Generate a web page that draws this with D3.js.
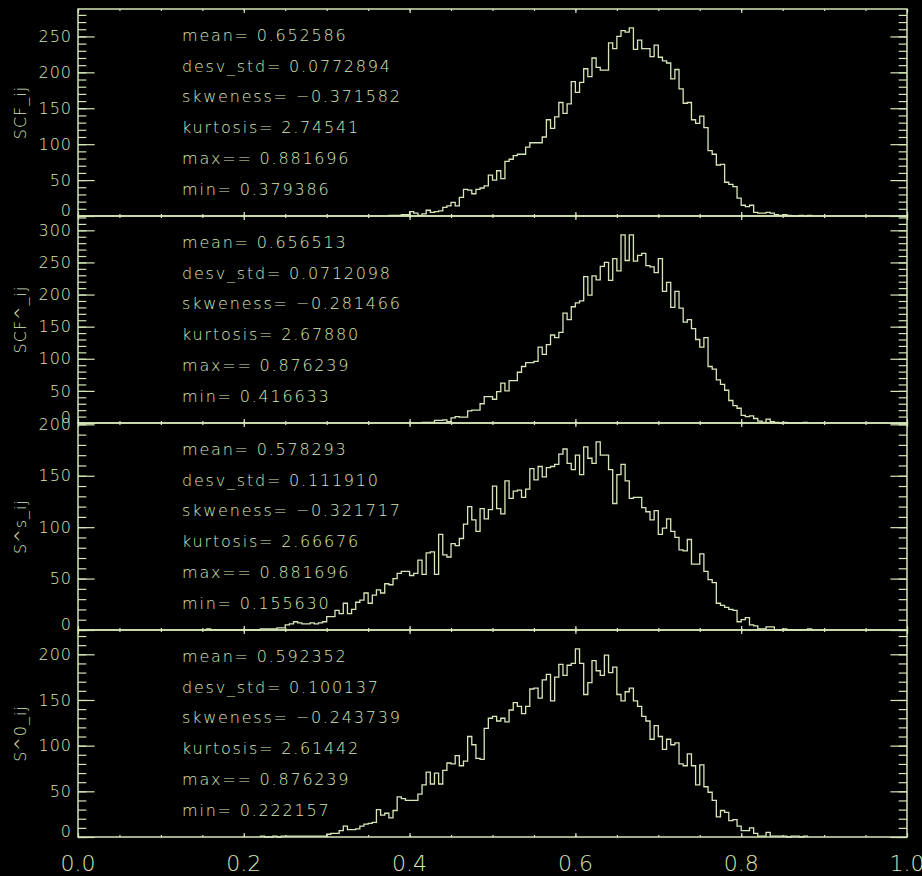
<!DOCTYPE html>
<html><head><meta charset="utf-8">
<script src="https://cdn.jsdelivr.net/npm/d3@7"></script>
<style>html,body{margin:0;padding:0;background:#000;} svg{display:block;background:#000}</style>
</head><body>
<svg id="chart" width="922" height="876"></svg>
<script>
// ---------- data ----------
const binWidth = 0.005;
const panelTitles = ["SCF_ij", "SCF^_ij", "S^s_ij", "S^0_ij"];
const statNames = ["mean=", "desv_std=", "skweness=", "kurtosis=", "max==", "min="];

const scfStart = 0.375;
const scfCounts = [1,1,1,2,2,
  6,4,1,3,8,5,6,7,12,14,
  19,14,26,37,36,31,37,39,42,57,
  50,63,52,76,79,84,86,86,96,102,
  102,102,110,134,122,138,158,143,156,187,
  172,186,205,194,220,207,203,203,241,233,
  250,258,256,262,232,245,233,233,222,238,
  221,216,213,191,204,177,157,158,134,129,
  139,123,91,86,71,72,47,44,41,25,
  15,13,15,5,4,4,5,4,2,1,
  2,1,0,0,1,0,1];
const scfStats = ["0.652586", "0.0772894", "\u22120.371582", "2.74541", "0.881696", "0.379386"];

const scfHatStart = 0.415;
const scfHatCounts = [1,1,1,4,4,5,2,
  8,10,9,9,19,20,20,30,41,41,
  37,49,62,50,66,66,79,88,94,94,
  96,118,107,122,137,133,141,171,161,181,
  187,190,228,199,229,223,244,250,222,256,
  237,293,253,293,252,261,264,245,243,234,
  256,205,219,180,205,179,157,161,147,130,
  118,133,88,84,67,60,51,35,27,23,
  12,10,11,7,3,1,6,2,1,0,
  1,0,0,0,0,1];
const scfHatStats = ["0.656513", "0.0712098", "\u22120.281466", "2.67880", "0.876239", "0.416633"];

const ssStart = 0.155;
const ssCounts = [1,0,0,0,0,0,0,0,0,
  0,0,0,0,1,1,1,1,2,2,
  5,6,8,7,6,6,7,6,7,8,
  13,13,19,16,26,16,20,27,29,36,
  26,34,39,36,45,44,50,55,57,57,
  53,55,68,54,75,76,54,93,73,71,
  84,82,89,103,120,107,96,118,108,117,
  140,118,113,145,128,135,136,129,137,157,
  146,159,149,158,159,161,171,176,162,156,
  170,151,178,167,162,183,170,170,156,123,
  151,161,145,128,129,129,119,115,107,116,
  93,99,108,96,90,78,77,88,64,64,
  74,57,49,46,26,24,22,20,19,8,
  10,12,5,4,1,1,3,3,0,0,
  1,0,0,0,0,0,1];
const ssStats = ["0.578293", "0.111910", "\u22120.321717", "2.66676", "0.881696", "0.155630"];

const s0Start = 0.220;
const s0Counts = [1,0,0,1,0,1,
  1,1,1,1,1,1,1,1,1,1,
  3,4,4,7,12,8,8,9,12,14,
  15,16,30,24,26,21,29,44,42,40,
  40,40,47,57,71,58,70,58,73,81,
  80,89,78,83,110,101,86,85,119,130,
  132,127,130,126,139,147,143,135,143,162,
  163,152,172,178,149,175,189,177,188,190,
  206,190,156,169,193,182,177,199,180,186,
  156,149,159,163,149,143,132,127,107,122,
  110,96,107,101,103,80,78,91,78,57,
  79,55,49,40,22,29,27,18,19,12,
  7,7,10,4,1,1,5,1,1,1,
  1,0,1,1,0,1];
const s0Stats = ["0.592352", "0.100137", "\u22120.243739", "2.61442", "0.876239", "0.222157"];

const xTickValues = [0, 0.2, 0.4, 0.6, 0.8, 1.0];
const xTickLabels = ["0.0", "0.2", "0.4", "0.6", "0.8", "1.0"];

const panels = [
  {title: panelTitles[0], start: scfStart, counts: scfCounts, stats: scfStats},
  {title: panelTitles[1], start: scfHatStart, counts: scfHatCounts, stats: scfHatStats},
  {title: panelTitles[2], start: ssStart, counts: ssCounts, stats: ssStats},
  {title: panelTitles[3], start: s0Start, counts: s0Counts, stats: s0Stats}
];

// ---------- layout ----------
const COLOR = "#d6e6b8";
const FONT = "'DejaVu Sans', sans-serif";
const WEIGHT = 200;
const left = 78, right = 907, top0 = 9, panelH = 207;
const svg = d3.select("#chart");
svg.append("rect").attr("width", 922).attr("height", 876).attr("fill", "#000");

const x = d3.scaleLinear().domain([0, 1]).range([left, right]);

panels.forEach((p, i) => {
  const top = top0 + i * panelH, bottom = top + panelH;
  const yMax = d3.max(p.counts) * 1.1;
  const y = d3.scaleLinear().domain([0, yMax]).range([bottom, top]);
  const g = svg.append("g");

  // histogram step line
  const pts = [{x: p.start, y: 0}];
  p.counts.forEach((c, k) => pts.push({x: p.start + k * binWidth, y: c}));
  pts.push({x: p.start + p.counts.length * binWidth, y: 0});
  const line = d3.line().x(d => x(d.x)).y(d => y(d.y)).curve(d3.curveStepAfter);
  g.append("path").datum(pts).attr("d", line)
    .attr("fill", "none").attr("stroke", COLOR).attr("stroke-width", 1.3);

  // y ticks
  const major = d3.range(0, yMax, 50);
  const minor = d3.range(0, yMax, 10);
  const styleAxis = sel => {
    sel.select(".domain").remove();
    sel.selectAll("line").attr("stroke", COLOR).attr("stroke-width", 1.2);
    sel.attr("font-family", FONT).attr("font-size", 16).attr("font-weight", WEIGHT);
    sel.selectAll("text").attr("fill", COLOR).attr("letter-spacing", "1px");
  };
  g.append("g").attr("transform", `translate(${left},0)`)
    .call(d3.axisLeft(y).tickValues(minor).tickSizeInner(-8.3).tickSizeOuter(0).tickFormat(""))
    .call(styleAxis);
  const yl = g.append("g").attr("transform", `translate(${left},0)`)
    .call(d3.axisLeft(y).tickValues(major).tickSizeInner(-16.6).tickSizeOuter(0).tickPadding(6).tickFormat(d3.format("d")))
    .call(styleAxis);
  yl.selectAll(".tick text").filter(d => d === 0).attr("dy", "-0.05em");
  g.append("g").attr("transform", `translate(${right},0)`)
    .call(d3.axisRight(y).tickValues(minor).tickSizeInner(-8.3).tickSizeOuter(0).tickFormat(""))
    .call(styleAxis);
  g.append("g").attr("transform", `translate(${right},0)`)
    .call(d3.axisRight(y).tickValues(major).tickSizeInner(-16.6).tickSizeOuter(0).tickFormat(""))
    .call(styleAxis);

  // x ticks top & bottom
  const xMinor = d3.range(0, 1.0001, 0.05);
  g.append("g").attr("transform", `translate(0,${top})`)
    .call(d3.axisBottom(x).tickValues(xMinor).tickSizeInner(2).tickSizeOuter(0).tickFormat("")).call(styleAxis);
  g.append("g").attr("transform", `translate(0,${top})`)
    .call(d3.axisBottom(x).tickValues(xTickValues).tickSizeInner(4).tickSizeOuter(0).tickFormat("")).call(styleAxis);
  g.append("g").attr("transform", `translate(0,${bottom})`)
    .call(d3.axisTop(x).tickValues(xMinor).tickSizeInner(2).tickSizeOuter(0).tickFormat("")).call(styleAxis);
  g.append("g").attr("transform", `translate(0,${bottom})`)
    .call(d3.axisTop(x).tickValues(xTickValues).tickSizeInner(4).tickSizeOuter(0).tickFormat("")).call(styleAxis);

  // frame
  g.append("rect").attr("x", left).attr("y", top).attr("width", right - left).attr("height", panelH)
    .attr("fill", "none").attr("stroke", COLOR).attr("stroke-width", 1.5);

  // y title
  g.append("text").attr("transform", `translate(26,${(top + bottom) / 2}) rotate(-90)`)
    .attr("text-anchor", "middle").attr("fill", COLOR).attr("font-family", FONT)
    .attr("font-weight", WEIGHT).attr("font-size", 16).attr("letter-spacing", "1px").text(p.title);

  // stats
  p.stats.forEach((v, k) => {
    g.append("text").attr("x", 182).attr("y", top + 32 + k * 30.7)
      .attr("fill", COLOR).attr("font-family", FONT).attr("font-size", 16).attr("font-weight", WEIGHT)
      .attr("letter-spacing", "1.8px").text(statNames[k] + " " + v);
  });
});

// bottom x labels
const bottomY = top0 + 4 * panelH;
svg.append("g").selectAll("text").data(xTickValues).join("text")
  .attr("x", d => x(d)).attr("y", bottomY + 34)
  .attr("text-anchor", "middle").attr("fill", COLOR).attr("font-family", FONT)
  .attr("font-weight", WEIGHT).attr("font-size", 22)
  .text((d, i) => xTickLabels[i]);
</script>
</body></html>
